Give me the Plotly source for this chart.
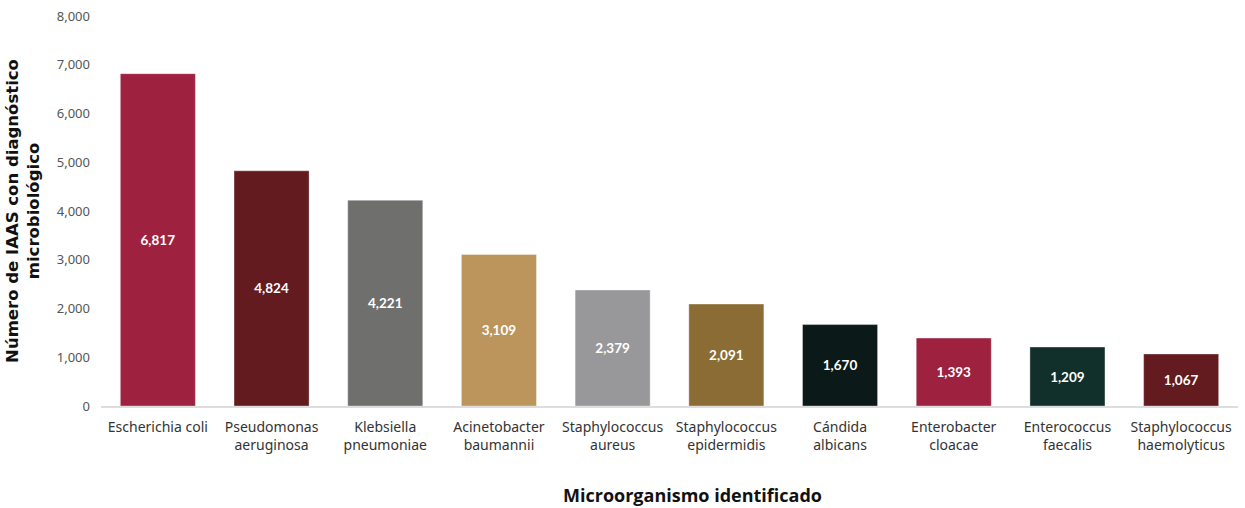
import plotly.graph_objects as go

organismos = [
    "Escherichia coli",
    "Pseudomonas<br>aeruginosa",
    "Klebsiella<br>pneumoniae",
    "Acinetobacter<br>baumannii",
    "Staphylococcus<br>aureus",
    "Staphylococcus<br>epidermidis",
    "Cándida<br>albicans",
    "Enterobacter<br>cloacae",
    "Enterococcus<br>faecalis",
    "Staphylococcus<br>haemolyticus",
]
casos = [6817, 4824, 4221, 3109, 2379, 2091, 1670, 1393, 1209, 1067]
colores = [
    "#9E2140", "#631B20", "#6F6F6E", "#BC955C", "#98989A",
    "#8B6C34", "#0B1A18", "#9E2140", "#11302B", "#631B20",
]
y_ticks = [0, 1000, 2000, 3000, 4000, 5000, 6000, 7000, 8000]

fig = go.Figure()

fig.add_trace(
    go.Bar(
        x=organismos,
        y=casos,
        marker={"color": colores, "line": {"color": "rgba(255,255,255,0.35)", "width": 1}},
        text=[f"{v:,}" for v in casos],
        textposition="inside",
        insidetextanchor="middle",
        textangle=0,
        textfont={"family": "Lato", "size": 13.5, "color": "white", "weight": "bold"},
        hovertemplate="%{x}: %{y:,}<extra></extra>",
    )
)

fig.update_layout(
    width=1245,
    height=508,
    margin={"l": 101, "r": 7, "t": 16, "b": 102},
    plot_bgcolor="white",
    paper_bgcolor="white",
    bargap=0.34,
    showlegend=False,
    font={"family": "Open Sans", "color": "#333333"},
    xaxis={
        "automargin": False,
        "tickfont": {"size": 14, "color": "#333333", "family": "Noto Sans"},
        "ticklabelstandoff": 7,
        "showline": True,
        "linecolor": "#dddddd",
        "linewidth": 2,
        "ticks": "",
    },
    yaxis={
        "automargin": False,
        "range": [0, 8000],
        "tickvals": y_ticks,
        "tickformat": ",",
        "showgrid": False,
        "zeroline": False,
        "tickfont": {"size": 13, "color": "#555555", "family": "Noto Sans"},
        "ticklabelstandoff": 10,
        "title": {
            "text": "Número de IAAS con diagnóstico<br>microbiológico",
            "font": {"size": 16.5, "color": "#111111", "family": "DejaVu Sans", "weight": "bold"},
            "standoff": 12,
        },
    },
    annotations=[
        {
            "text": "Microorganismo identificado",
            "xref": "paper",
            "yref": "paper",
            "x": 0.52,
            "y": -0.228,
            "xanchor": "center",
            "yanchor": "middle",
            "showarrow": False,
            "font": {"size": 18, "color": "#111111", "family": "Open Sans", "weight": "bold"},
        }
    ],
)

# the page's default body margin would shift the figure by 8px
fig.write_html(
    "out.html",
    config={"displayModeBar": False},
    post_script="document.body.style.margin = '0';",
)
